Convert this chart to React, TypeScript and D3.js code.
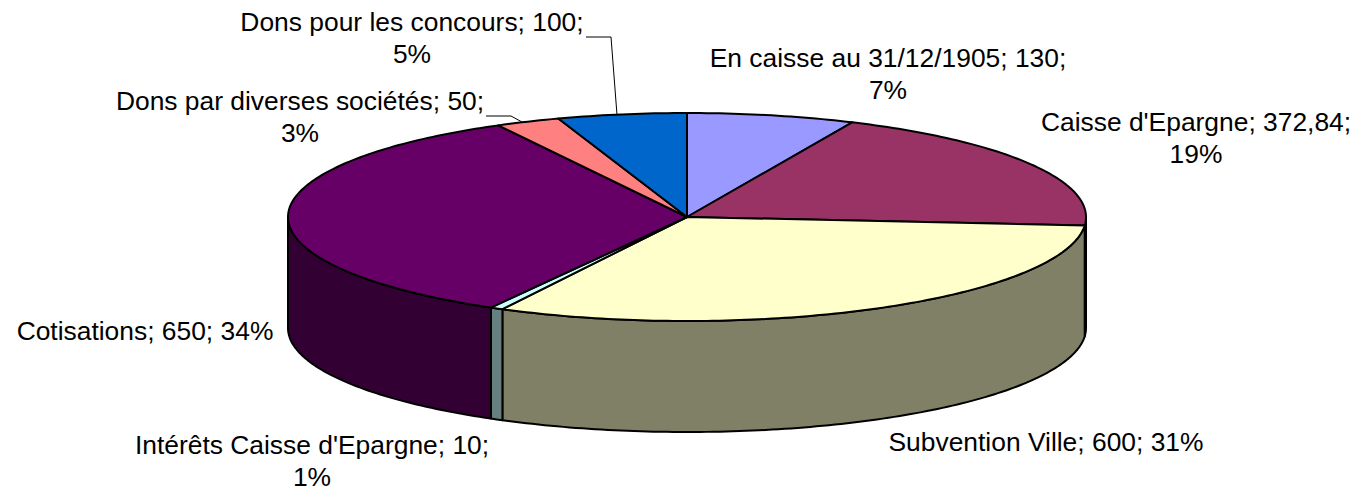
import React from "react";
import * as d3 from "d3";

const categories = ["En caisse au 31/12/1905", "Caisse d'Epargne", "Subvention Ville", "Intérêts Caisse d'Epargne", "Cotisations", "Dons par diverses sociétés", "Dons pour les concours"];
const values = [130, 372.84, 600, 10, 650, 50, 100];
const topColors = ["#9999FF", "#993366", "#FFFFCC", "#CCFFFF", "#660066", "#FF8080", "#0066CC"];
const sideColors = ["#4D4D80", "#4D1A33", "#808066", "#668080", "#330033", "#804040", "#003366"];
const labelLines = [
  ["En caisse au 31/12/1905; 130;", "7%"],
  ["Caisse d'Epargne; 372,84;", "19%"],
  ["Subvention Ville; 600; 31%"],
  ["Intérêts Caisse d'Epargne; 10;", "1%"],
  ["Cotisations; 650; 34%"],
  ["Dons par diverses sociétés; 50;", "3%"],
  ["Dons pour les concours; 100;", "5%"],
];
const labelAnchors: [number, number][] = [[888, 67], [1196, 131], [1046, 451], [312, 454], [145, 340], [300, 110], [412, 31]];

const cx = 687, cy = 217, rx = 399, ry = 104, depth = 111;
const xS = (a: number) => cx + rx * Math.sin(a);
const yS = (a: number) => cy - ry * Math.cos(a);
const line = d3.line();

function arcPoints(a0: number, a1: number, dy = 0): [number, number][] {
  const n = Math.max(2, Math.ceil(Math.abs(a1 - a0) * 60));
  return d3.range(n + 1).map((i) => {
    const a = a0 + ((a1 - a0) * i) / n;
    return [xS(a), yS(a) + dy] as [number, number];
  });
}

export default function App() {
  const arcs = d3.pie<number>().sort(null).startAngle(0).endAngle(2 * Math.PI)(values);
  const lo = Math.PI / 2, hi = (3 * Math.PI) / 2;
  const sides = arcs
    .map((d, i) => ({ a0: Math.max(d.startAngle, lo), a1: Math.min(d.endAngle, hi), i }))
    .filter((s) => s.a1 > s.a0);
  return (
    <svg width={1360} height={492} style={{ position: "absolute", left: 0, top: 0, background: "#fff" }}>
      <g stroke="#000" strokeWidth={2} strokeLinejoin="round">
        {sides.map((s) => (
          <path
            key={s.i}
            fill={sideColors[s.i]}
            d={(line([...arcPoints(s.a0, s.a1), ...arcPoints(s.a1, s.a0, depth)]) ?? "") + "Z"}
          />
        ))}
        {arcs.map((d, i) => (
          <path
            key={i}
            fill={topColors[i]}
            d={(line([[cx, cy], ...arcPoints(d.startAngle, d.endAngle)]) ?? "") + "Z"}
          />
        ))}
      </g>
      <g fill="none" stroke="#000" strokeWidth={1}>
        <path d={line([[586, 37], [611, 37], [617, 115]]) ?? ""} />
        <path d={line([[486, 116], [511, 116], [522, 122]]) ?? ""} />
      </g>
      <g fontFamily="'Liberation Sans', Arial, sans-serif" fontSize={26.4} textAnchor="middle" fill="#000">
        {labelLines.map((lines, i) => (
          <text key={categories[i]} x={labelAnchors[i][0]} y={labelAnchors[i][1]}>
            {lines.map((t, j) => (
              <tspan key={j} x={labelAnchors[i][0]} dy={j === 0 ? 0 : 32}>{t}</tspan>
            ))}
          </text>
        ))}
      </g>
    </svg>
  );
}
